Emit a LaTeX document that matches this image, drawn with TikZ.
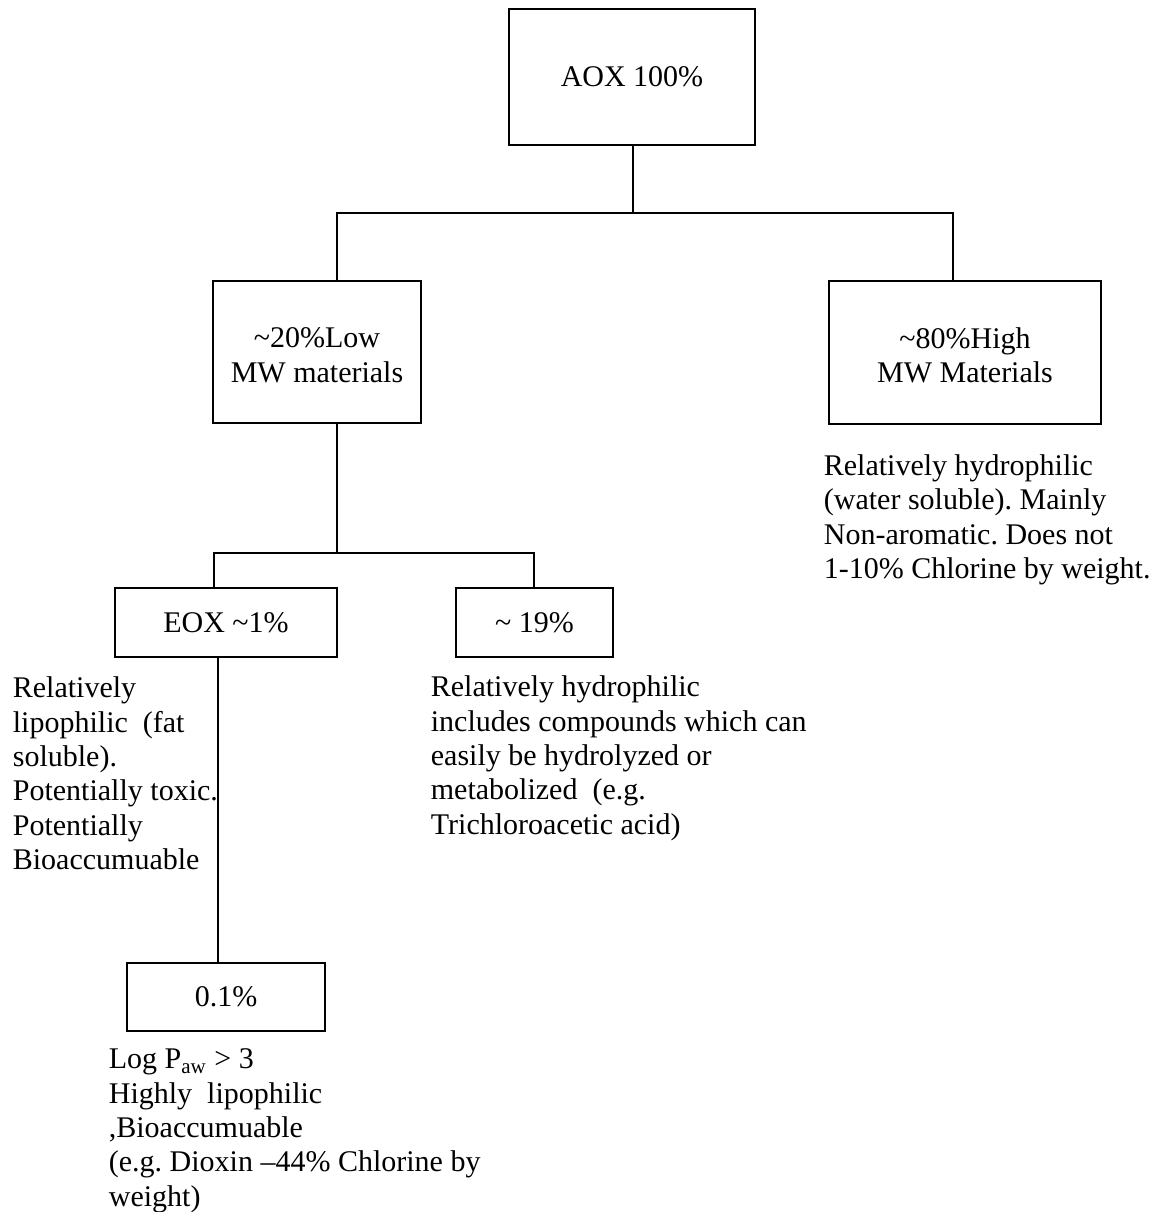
\documentclass[tikz,border=0pt]{standalone}
\usepackage{fontspec}
\setmainfont{Liberation Serif}
\frenchspacing
\newcommand{\twolines}[2]{\raisebox{-3pt}[\height][\depth]{\begin{tabular}{@{}c@{}}#1\\#2\end{tabular}}}
\begin{document}
\begin{tikzpicture}[x=0.5pt,y=-0.5pt,
  line width=0.9pt,
  every node/.style={font=\fontsize{15}{17.2}\selectfont},
  box/.style={draw, line width=0.9pt, align=center, inner sep=0pt},
  note/.style={anchor=north west, align=left, inner sep=0pt}]
\useasboundingbox (0,0) rectangle (1158,1212);
% boxes
\node[box, minimum width=123pt, minimum height=68pt] (aox) at (632,77) {AOX 100\%};
\node[box, minimum width=104pt, minimum height=71pt] (low) at (317,352) {\twolines{\textasciitilde 20\%Low}{MW materials}};
\node[box, minimum width=136pt, minimum height=71.5pt] (high) at (965,352.5) {\twolines{\textasciitilde 80\%High}{MW Materials}};
\node[box, minimum width=111pt, minimum height=34.5pt] (eox) at (226,622.5) {EOX \textasciitilde 1\%};
\node[box, minimum width=78.5pt, minimum height=34.5pt] (p19) at (534.5,622.5) {\textasciitilde{} 19\%};
\node[box, minimum width=99pt, minimum height=34pt] (p01) at (226,997) {0.1\%};
% notes
\node[note] (nhigh) at (823,453.5) {Relatively hydrophilic\\(water soluble). Mainly\\Non-aromatic. Does not\\1-10\% Chlorine by weight.};
\node[note] (neox) at (12,676) {Relatively\\lipophilic\ \ (fat\\soluble).\\Potentially toxic.\\Potentially\\Bioaccumuable};
\node[note] (n19) at (430,675) {Relatively hydrophilic\\includes compounds which can\\easily be hydrolyzed or\\metabolized\ \ (e.g.\\Trichloroacetic acid)};
\node[note] (n01) at (108,1048) {Log P\textsubscript{aw} > 3\\Highly\ \ lipophilic\\,Bioaccumuable\\(e.g. Dioxin \textendash44\% Chlorine by\\weight)};
% connectors
\coordinate (ja) at (633,213);
\coordinate (jl) at (337,213);
\coordinate (jr) at (953,213);
\coordinate (jb) at (337,553);
\coordinate (jbl) at (214,553);
\coordinate (jbr) at (534,553);
\coordinate (jc) at (218,800);
\draw (ja |- aox.south) -- (ja);
\draw (jl |- low.north) -- (jl) -- (jr) -- (jr |- high.north);
\draw (jb |- low.south) -- (jb);
\draw (jbl |- eox.north) -- (jbl) -- (jbr) -- (jbr |- p19.north);
\draw (jc |- eox.south) -- (jc |- p01.north);
\end{tikzpicture}
\end{document}
